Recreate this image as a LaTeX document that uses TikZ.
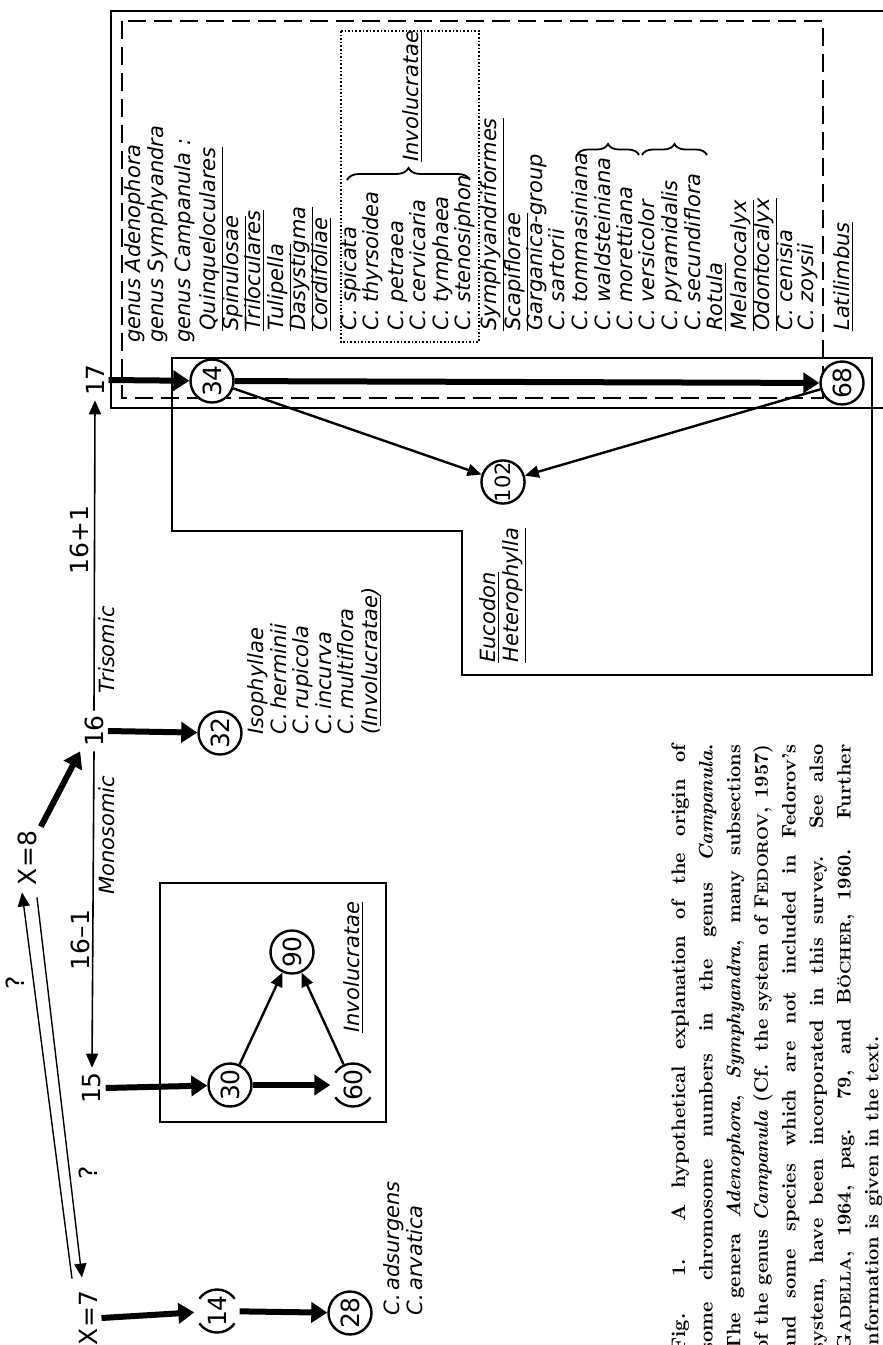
\documentclass[tikz,border=0pt]{standalone}
\usepackage{fontspec}
\newfontfamily\lettering{DejaVu Sans}
\usetikzlibrary{arrows.meta,calc,decorations.pathreplacing}

\newcommand\fsc[2]{#1{\fontsize{7.6}{10}\selectfont #2}}
\newcommand\capline[1]{\makebox[\linewidth][s]{#1}\par}

\tikzset{
  taxon/.style={rotate=90, anchor=mid west, inner sep=1pt,
    font=\lettering\itshape\fontsize{10.5}{12}\selectfont},
  numlbl/.style={rotate=90, inner sep=2pt,
    font=\lettering\fontsize{12.5}{14}\selectfont},
  chrom/.style={circle, draw, fill=white, line width=1.2pt, minimum size=21.5pt,
    inner sep=0pt, rotate=90, font=\lettering\fontsize{12.5}{14}\selectfont},
  hypo/.style={chrom, dash pattern=on 20.6pt off 13.1pt, dash phase=10.3pt},
  fat/.style={line width=3pt, -{Triangle[length=8pt,width=10pt]}},
  thin/.style={line width=1.2pt, -{Triangle[length=7pt,width=6pt]}},
  axis/.style={line width=0.8pt, -{Triangle[length=7pt,width=6pt]}},
  bracket/.style={line width=0.9pt, decorate, decoration={brace, amplitude=#1}},
}

\begin{document}
\begin{tikzpicture}[x=0.5pt, y=-0.5pt]
\useasboundingbox (0,0) rectangle (883,1345);
\clip (0,0) rectangle (883,1345);

% frames
\draw[line width=1.2pt] (883,11) -- (111,11) -- (111,408) -- (883,408);
\draw[line width=1pt, dash pattern=on 9pt off 4pt] (122,21) rectangle (823,398);
\draw[line width=0.8pt, densely dotted] (341,31) rectangle (479,342);
\draw[line width=0.8pt] (172,358) -- (872,358) -- (872,675) -- (462,675)
  -- (462,531) -- (172,531) -- cycle;
\draw[line width=0.8pt] (160,883) rectangle (386,1122);

% basic numbers
\node[numlbl] (n17) at (95,380) {17};
\node[numlbl] (n16) at (94,731) {16};
\node[numlbl] (n15) at (92,1088) {15};
\node[numlbl] (x8) at (27,858) {X=8};
\node[numlbl] (x7) at (88,1318) {X=7};
\node[numlbl] (plus) at (79,540) {16+1};
\node[numlbl] (minus) at (80,940) {16–1};
\node[taxon, anchor=center] (tri) at (107,650) {Trisomic};
\node[taxon, anchor=center] (mono) at (107,835) {Monosomic};
\node[numlbl] (q1) at (15,983) {?};
\node[numlbl] (q2) at (88,1173) {?};

% chromosome numbers
\node[chrom] (c34) at (212,381) {34};
\node[chrom] (c68) at (842,383) {68};
\node[chrom, font=\lettering\fontsize{10.5}{12}\selectfont] (c102) at (503,482) {102};
\node[chrom] (c32) at (220,733) {32};
\node[chrom] (c30) at (230,1085) {30};
\node[chrom] (c90) at (292,952) {90};
\node[hypo] (c60) at (353,1085) {60};
\node[hypo] (c14) at (217,1311) {14};
\node[chrom] (c28) at (350,1313) {28};

% arrows
\draw[axis] (n16.east) -- (n17.west);
\draw[axis] (n16.west) -- (n15.east);
\draw[fat] (n17.south) -- (c34);
\draw[fat] (c34) -- (c68);
\draw[thin] (c34) -- (c102);
\draw[thin] (c68) -- (c102);
\draw[fat] (n16.south) -- (c32);
\draw[fat] (x8.south east) -- (n16.north west);
\draw[fat] (n15.south) -- (c30);
\draw[fat] (c30) -- (c60);
\draw[thin] (c30) -- (c90);
\draw[thin] (c60) -- (c90);
\draw[fat] (x7.south) -- (c14);
\draw[fat] (c14) -- (c28);
\draw[axis, line width=0.7pt] ($(x7.east)+(-16,-8)$) -- ($(x8.west)+(-5,3)$);
\draw[axis, line width=0.7pt] ($(x8.west)+(10,8)$) -- ($(x7.east)+(-6,-9)$);

% taxa in the frame
\node[taxon] (gad) at (136,345) {genus Adenophora};
\node[taxon] (gsy) at (159,345) {genus Symphyandra};
\node[taxon] (gca) at (186,345) {genus Campanula :};
\foreach \sx/\sname [count=\k] in {
  211/\underline{Quinqueloculares}, 234/\underline{Spinulosae},
  256/\underline{Triloculares}, 279/\underline{Tulipella},
  301/\underline{Dasystigma}, 323/\underline{Cordifoliae},
  352/C. spicata, 374/C. thyrsoidea, 399/C. petraea, 421/C. cervicaria,
  444/C. tymphaea, 466/C. stenosiphon,
  492/\underline{Symphyandriformes}, 516/\underline{Scapiflorae},
  538/Garganica-group, 560/C. sartorii, 583/C. tommasiniana,
  606/C. waldsteiniana, 628/C. morettiana, 650/C. versicolor,
  673/C. pyramidalis, 696/C. secundiflora, 718/\underline{Rotula},
  742/\underline{Melanocalyx}, 765/\underline{Odontocalyx},
  788/C. cenisia, 809/C. zoysii, 845/\underline{Latilimbus}}
  \node[taxon] (sp\k) at (\sx,333) {\sname};
\node[taxon] (invtop) at (414,164) {\underline{Involucratae}};
\draw[bracket=6pt] (347,180) -- (470,180);
\draw[bracket=5.5pt] (577,155) -- (639,155);
\draw[bracket=5.5pt] (642,155) -- (707,155);

% other taxa
\foreach \sx/\sname [count=\k] in {259/Isophyllae, 282/C.\,herminii,
  304/C.\,rupicola, 327/C.\,incurva, 349/C.\,multiflora,
  373/(\underline{Involucratae})}
  \node[taxon] (iso\k) at (\sx,737) {\sname};
\node[taxon] (euc) at (491,665) {\underline{Eucodon}};
\node[taxon] (het) at (514,665) {\underline{Heterophylla}};
\node[taxon] (invbox) at (355,1035) {\underline{Involucratae}};
\node[taxon] (ads) at (395,1318) {C.\,adsurgens};
\node[taxon] (arv) at (418,1318) {C.\,arvatica};

% caption
\node[rotate=90, anchor=north west, inner sep=0pt,
  font=\bfseries\fontsize{9.8}{13.8}\selectfont] (cap) at (671,1352) {\parbox{303.5pt}{%
\capline{Fig. 1. A hypothetical explanation of the origin of}
\capline{some chromosome numbers in the genus \emph{Campanula}.}
\capline{The genera \emph{Adenophora}, \emph{Symphyandra}, many subsections}
\capline{of the genus \emph{Campanula} (Cf. the system of \fsc{F}{EDOROV}, 1957)}
\capline{and some species which are not included in Fedorov's}
\capline{system, have been incorporated in this survey. See also}
\capline{\fsc{G}{ADELLA}, 1964, pag. 79, and \fsc{B}{ÖCHER}, 1960. Further}
information is given in the text.}};
\end{tikzpicture}
\end{document}
